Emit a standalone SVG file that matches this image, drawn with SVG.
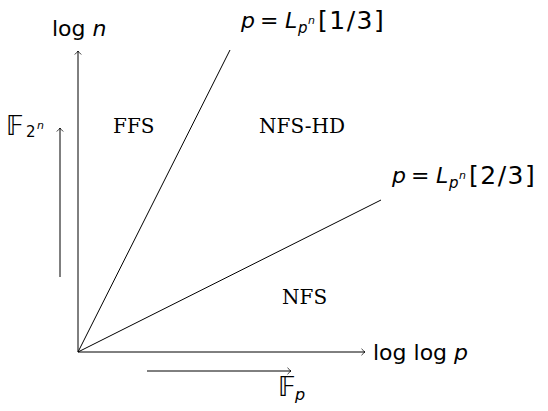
<svg xmlns="http://www.w3.org/2000/svg" width="548" height="411" viewBox="0 0 548 411">
<style>
.ln{stroke:#000;stroke-width:1;fill:none}
.ax{stroke:#000;stroke-width:1;fill:none;marker-end:url(#to)}
.m{font-family:"DejaVu Sans","Liberation Sans",sans-serif;font-size:22px;fill:#000}
.it{font-style:italic}
.sb{font-size:15px}
.sp{font-size:11px}
.br{font-size:25px;letter-spacing:1.5px}
.r{font-family:"DejaVu Serif","Liberation Serif",serif;font-size:20px;fill:#000}
.bb{font-family:"DejaVu Sans","DejaVu Serif",serif;font-size:26px;fill:#000}
</style>
<defs>
<marker id="to" viewBox="-5 -4 6 8" refX="0" refY="0" markerWidth="6" markerHeight="8" markerUnits="userSpaceOnUse" orient="auto">
<path d="M-3.5,-3.2 Q-1,-0.6 0,0 Q-1,0.6 -3.5,3.2" fill="none" stroke="#000" stroke-width="0.8"/>
</marker>
</defs>
<g id="connectors">
<path class="ax" d="M78,352 V51"/>
<path class="ax" d="M78,352 H365"/>
<path class="ln" d="M78,352 L230,50"/>
<path class="ln" d="M78,352 L381,200"/>
<path class="ax" d="M60,277 V128"/>
<path class="ax" d="M147,371 H291"/>
</g>
<g id="labels">
<text class="m" x="52" y="36">log <tspan class="it">n</tspan></text>
<g class="m">
<text x="241" y="28" class="it">p</text>
<text x="260" y="28">=</text>
<text x="285" y="28" class="it">L</text>
<text x="298" y="33" class="it sb">p</text>
<text x="308" y="24" class="it sp">n</text>
<text x="318" y="29" class="br">[1/3]</text>
</g>
<g class="m">
<text x="392" y="183" class="it">p</text>
<text x="411" y="183">=</text>
<text x="436" y="183" class="it">L</text>
<text x="449" y="188" class="it sb">p</text>
<text x="459" y="179" class="it sp">n</text>
<text x="469" y="184" class="br">[2/3]</text>
</g>
<text class="m" x="373" y="360">log log <tspan class="it">p</tspan></text>
</g>
<g id="FFS"><text class="r" x="113" y="133">FFS</text></g>
<g id="NFS-HD"><text class="r" x="259" y="133">NFS-HD</text></g>
<g id="NFS"><text class="r" x="282" y="304">NFS</text></g>
<g id="F2n"><text class="bb" x="6" y="135">𝔽</text><text class="m" x="26" y="137" style="font-size:15px">2</text><text class="m it" x="37" y="129" style="font-size:11px">n</text></g>
<g id="Fp"><text class="bb" x="278" y="396">𝔽</text><text class="m it" x="295" y="400" style="font-size:16px">p</text></g>
</svg>
